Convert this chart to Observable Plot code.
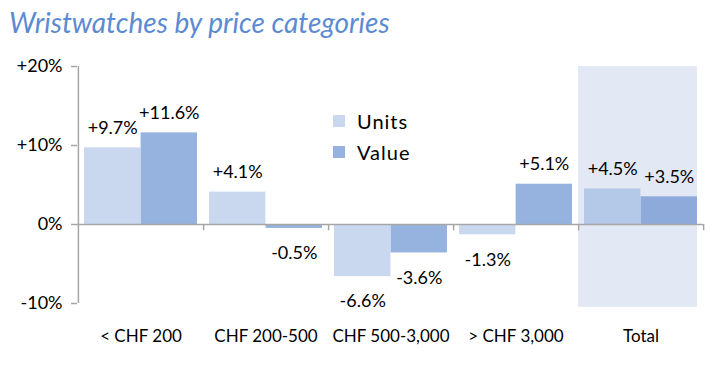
<!DOCTYPE html>
<html>
<head>
<meta charset="utf-8">
<script src="https://cdn.jsdelivr.net/npm/d3@7"></script>
<script src="https://cdn.jsdelivr.net/npm/@observablehq/plot@0.6"></script>
<style>
  body { margin: 0; background: #fff; font-family: Lato, "Open Sans", sans-serif; }
  #wrap { position: relative; width: 714px; height: 366px; }
  #title { height: 50px; box-sizing: border-box; padding: 5px 0 0 9px; font-style: italic; font-size: 28px; color: #5b8bd2; }
  #legend { position: absolute; left: 333px; top: 105px; font-size: 20px; color: #000; }
  #legend div { display: flex; align-items: center; height: 31px; letter-spacing: 1px; }
  #legend span.sw { display: inline-block; width: 12px; height: 12px; margin-right: 12px; }
</style>
</head>
<body>
<div id="wrap">
  <div id="title">Wristwatches by price categories</div>
  <div id="chart"></div>
  <div id="legend"></div>
</div>
<script>
const categories = ["< CHF 200", "CHF 200-500", "CHF 500-3,000", "> CHF 3,000", "Total"];
const unitsValues = [9.7, 4.1, -6.6, -1.3, 4.5];
const valueValues = [11.6, -0.5, -3.6, 5.1, 3.5];
const yTicks = [-10, 0, 10, 20];
const seriesNames = ["Units", "Value"];
const colors = {Units: "#c9d8ef", Value: "#96b3df"};
const totalColors = {Units: "#b4c8e7", Value: "#8daadb"};

const width = 714, height = 316;
const marginLeft = 77, marginRight = 11, marginTop = 16, marginBottom = 63;
const bw = (width - marginLeft - marginRight) / categories.length;
const gap = 6;

const units = categories.map((c, i) => ({category: c, series: "Units", value: unitsValues[i]}));
const values = categories.map((c, i) => ({category: c, series: "Value", value: valueValues[i]}));
const all = units.concat(values);
const fillOf = d => (d.category === "Total" ? totalColors : colors)[d.series];
const fmt = d => (d.value > 0 ? "+" : "") + d.value.toFixed(1) + "%";
const offs = {Units: -bw / 4 + gap / 2, Value: bw / 4 - gap / 2};
const axisColor = "#a6a6a6";
const font = "Lato, 'Open Sans', sans-serif";

const textMark = (series, pos) => Plot.text(all.filter(d => d.series === series && (pos ? d.value >= 0 : d.value < 0)), {
  x: "category", y: "value", text: fmt, fill: "#000",
  dx: offs[series], dy: pos ? -14 : 18,
  lineAnchor: pos ? "bottom" : "top", fontSize: 18
});

const chart = Plot.plot({
  width, height, marginLeft, marginRight, marginTop, marginBottom,
  style: {fontFamily: font, fontSize: "18px", color: "#000", background: "transparent"},
  x: {type: "band", domain: categories, padding: 0, label: null},
  y: {domain: [-10, 20], label: null},
  color: {type: "identity"},
  marks: [
    Plot.barY(["Total"], {x: d => d, y1: -10.5, y2: 20, fill: "#e2e9f5", insetRight: gap}),
    Plot.barY(units, {x: "category", y: "value", fill: fillOf, insetLeft: gap, insetRight: bw / 2}),
    Plot.barY(values, {x: "category", y: "value", fill: fillOf, insetLeft: bw / 2, insetRight: gap}),
    Plot.ruleY([0], {stroke: axisColor, strokeWidth: 1.5}),
    Plot.ruleX([categories[0]], {x: d => d, dx: -bw / 2, y1: -10, y2: 20, stroke: axisColor, strokeWidth: 1.5}),
    Plot.ruleX(categories, {x: d => d, dx: bw / 2, y1: 0, y2: -0.8, stroke: axisColor, strokeWidth: 1.5}),
    Plot.axisY({ticks: yTicks, tickFormat: d => (d > 0 ? "+" : "") + d + "%", tickSize: 6, tickPadding: 9,
      stroke: axisColor, strokeWidth: 1.5, fill: "#000", fontSize: 18, label: null}),
    Plot.axisX({tickSize: 0, tickPadding: 26, fill: "#000", fontSize: 17, label: null}),
    textMark("Units", true), textMark("Units", false),
    textMark("Value", true), textMark("Value", false)
  ]
});
document.getElementById("chart").appendChild(chart);

const legend = document.getElementById("legend");
seriesNames.forEach(s => {
  const row = document.createElement("div");
  const sw = document.createElement("span");
  sw.className = "sw";
  sw.style.background = colors[s];
  row.appendChild(sw);
  row.appendChild(document.createTextNode(s));
  legend.appendChild(row);
});
</script>
</body>
</html>
